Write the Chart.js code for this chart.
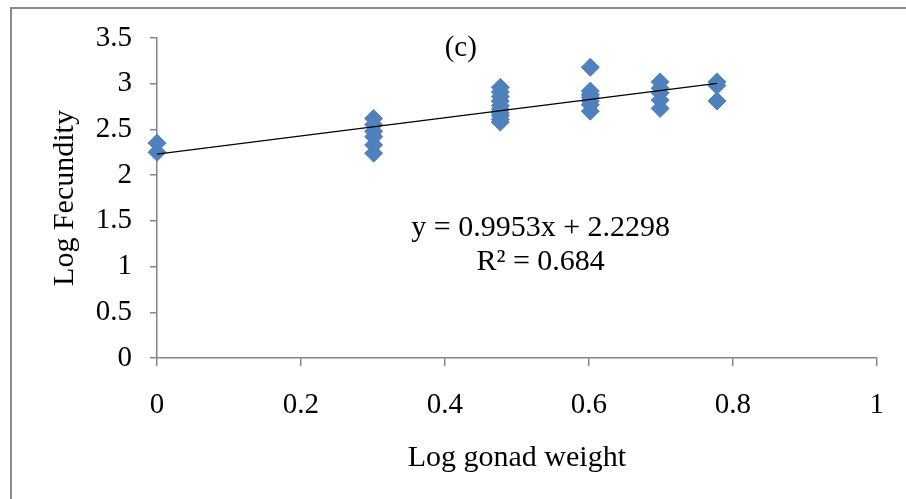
<!DOCTYPE html>
<html>
<head>
<meta charset="utf-8">
<script src="https://cdn.jsdelivr.net/npm/chart.js@4.4.1/dist/chart.umd.min.js"></script>
<style>
html,body{margin:0;padding:0;background:#fff;}
#wrap{width:906px;height:499px;position:relative;}
</style>
</head>
<body>
<div id="wrap"><canvas id="c" width="906" height="499"></canvas></div>
<script>
// Data
const gonadLog = [
  0, 0,
  0.301, 0.301, 0.301, 0.301, 0.301, 0.301,
  0.477, 0.477, 0.477, 0.477, 0.477, 0.477, 0.477, 0.477, 0.477, 0.477,
  0.602, 0.602, 0.602, 0.602, 0.602, 0.602, 0.602,
  0.699, 0.699, 0.699, 0.699, 0.699,
  0.778, 0.778, 0.778
];
const fecundityLog = [
  2.35, 2.25,
  2.62, 2.55, 2.48, 2.42, 2.33, 2.24,
  2.96, 2.91, 2.86, 2.81, 2.76, 2.72, 2.68, 2.65, 2.61, 2.58,
  3.18, 2.92, 2.88, 2.85, 2.81, 2.77, 2.70,
  3.02, 2.95, 2.90, 2.82, 2.73,
  3.02, 2.98, 2.81
];
const trendSlope = 0.9953;
const trendIntercept = 2.2298;
const rSquared = 0.684;
const xTickLabels = ['0', '0.2', '0.4', '0.6', '0.8', '1'];
const yTickLabels = ['0', '0.5', '1', '1.5', '2', '2.5', '3', '3.5'];

const points = gonadLog.map((x, i) => ({x: x, y: fecundityLog[i]}));
const xMin = Math.min(...gonadLog), xMax = Math.max(...gonadLog);
const trend = [xMin, xMax].map(x => ({x: x, y: trendSlope * x + trendIntercept}));

const FONT = "'Liberation Serif', 'Times New Roman', serif";
const GRAY = '#868686';

const decorations = {
  id: 'decorations',
  beforeDraw(chart) {
    const ctx = chart.ctx;
    ctx.save();
    ctx.strokeStyle = '#8c8c8c';
    ctx.lineWidth = 2;
    ctx.beginPath();
    ctx.moveTo(11, 520);
    ctx.lineTo(11, 8);
    ctx.lineTo(920, 8);
    ctx.stroke();
    ctx.restore();
  },
  afterDraw(chart) {
    const ctx = chart.ctx;
    const xs = chart.scales.x, ys = chart.scales.y;
    ctx.save();
    ctx.fillStyle = '#000';
    ctx.textAlign = 'center';
    ctx.textBaseline = 'middle';
    ctx.font = '29px ' + FONT;
    ctx.fillText('(c)', xs.getPixelForValue(0.422), ys.getPixelForValue(3.39));
    ctx.font = '30px ' + FONT;
    ctx.fillText('y = ' + trendSlope + 'x + ' + trendIntercept, xs.getPixelForValue(0.533), ys.getPixelForValue(1.42));
    ctx.fillText('R\u00B2 = ' + rSquared, xs.getPixelForValue(0.533), ys.getPixelForValue(1.05));
    ctx.restore();
  }
};

new Chart(document.getElementById('c'), {
  type: 'scatter',
  data: {
    datasets: [
      {
        label: 'Trend',
        type: 'line',
        data: trend,
        borderColor: '#000',
        borderWidth: 1.2,
        pointRadius: 0,
        fill: false,
        order: 0
      },
      {
        label: 'Log Fecundity',
        data: points,
        pointStyle: 'rectRot',
        pointRadius: 9,
        pointHoverRadius: 9,
        backgroundColor: '#4F81BD',
        borderColor: '#4F81BD',
        borderWidth: 1,
        clip: false,
        order: 1
      }
    ]
  },
  options: {
    responsive: false,
    animation: false,
    devicePixelRatio: 1,
    layout: {padding: {left: 0, right: 29, top: 38, bottom: 0}},
    plugins: {legend: {display: false}, tooltip: {enabled: false}},
    scales: {
      x: {
        type: 'linear',
        min: 0, max: 1,
        afterFit(s) { s.height = 141; },
        afterBuildTicks(s) { s.ticks = xTickLabels.map(v => ({value: parseFloat(v)})); },
        grid: {display: true, drawOnChartArea: false, drawTicks: true, tickLength: 8, color: GRAY, lineWidth: 1.5},
        border: {display: true, color: GRAY, width: 1.5},
        ticks: {
          padding: 22,
          color: '#000',
          font: {family: FONT, size: 29},
          callback: (v, i) => xTickLabels[i]
        },
        title: {display: true, text: 'Log gonad weight', color: '#000', font: {family: FONT, size: 30}, padding: {top: 0, bottom: 23}}
      },
      y: {
        type: 'linear',
        min: 0, max: 3.5,
        afterFit(s) { s.width = 157; },
        afterBuildTicks(s) { s.ticks = yTickLabels.map(v => ({value: parseFloat(v)})); },
        grid: {display: true, drawOnChartArea: false, drawTicks: true, tickLength: 7, color: GRAY, lineWidth: 1.5},
        border: {display: true, color: GRAY, width: 1.5},
        ticks: {
          padding: 18,
          color: '#000',
          font: {family: FONT, size: 29},
          callback: (v, i) => yTickLabels[i]
        },
        title: {display: true, text: 'Log Fecundity', color: '#000', font: {family: FONT, size: 30}, padding: {top: 47, bottom: 0}}
      }
    }
  },
  plugins: [decorations]
});
</script>
</body>
</html>
